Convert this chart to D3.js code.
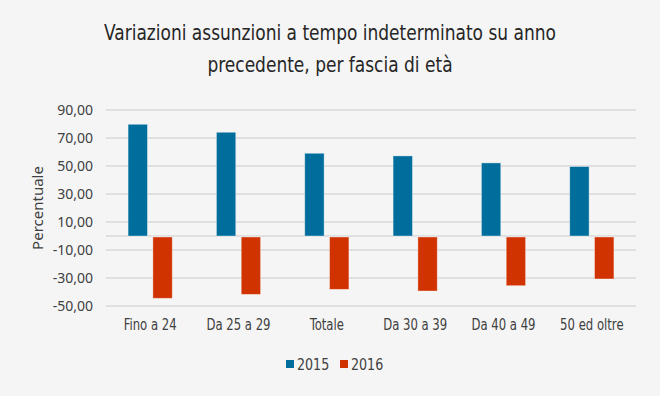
<!DOCTYPE html>
<html>
<head>
<meta charset="utf-8">
<script src="https://cdn.jsdelivr.net/npm/d3@7"></script>
<style>
  html, body { margin: 0; padding: 0; background: #f5f5f5; }
  svg { display: block; }
  .narrow { font-family: 'DejaVu Sans', sans-serif; font-stretch: condensed; }
</style>
</head>
<body>
<div id="chart"></div>
<script>
const categories = ["Fino a 24", "Da 25 a 29", "Totale", "Da 30 a 39", "Da 40 a 49", "50 ed oltre"];
const seriesNames = ["2015", "2016"];
const values2015 = [79.8, 74.1, 59.1, 57.2, 52.2, 49.6];
const values2016 = [-44.5, -41.7, -38.1, -39.3, -35.5, -30.7];
const yTicks = [90, 70, 50, 30, 10, -10, -30, -50];
const titleLines = ["Variazioni assunzioni a tempo indeterminato su anno", "precedente, per fascia di età"];

const colors = { "2015": "#006e9c", "2016": "#d03300" };
const width = 660, height = 396;
const margin = { left: 106, right: 24, top: 110, bottom: 90 };

const svg = d3.select("#chart").append("svg")
    .attr("width", width)
    .attr("height", height)
    .style("background", "#f5f5f5");

const regular = "'Noto Sans', 'Open Sans', sans-serif";

// the original font is a tall condensed face, squeeze the text horizontally to get close
function squeeze(sel, k) {
    sel.each(function () {
        const w = this.getComputedTextLength();
        d3.select(this).attr("textLength", w * k).attr("lengthAdjust", "spacingAndGlyphs");
    });
}

// Title
svg.append("text")
    .attr("class", "narrow")
    .attr("text-anchor", "middle")
    .attr("font-size", "22px")
    .attr("fill", "#262626")
    .selectAll("tspan")
    .data(titleLines)
    .join("tspan")
    .attr("x", width / 2)
    .attr("y", (d, i) => 40 + i * 32)
    .text(d => d)
    .call(squeeze, 0.86);

const x0 = d3.scaleBand()
    .domain(categories)
    .range([margin.left, width - margin.right])
    .paddingInner(0.5)
    .paddingOuter(0.25);

const x1 = d3.scaleBand()
    .domain(seriesNames)
    .range([0, x0.bandwidth()])
    .paddingInner(0.22);

const y = d3.scaleLinear()
    .domain([-50, 90])
    .range([height - margin.bottom, margin.top]);

// Gridlines
svg.append("g")
    .selectAll("line")
    .data(yTicks.concat([0]))
    .join("line")
    .attr("x1", margin.left)
    .attr("x2", width - margin.right)
    .attr("y1", d => y(d))
    .attr("y2", d => y(d))
    .attr("stroke", "#d9d9d9")
    .attr("stroke-width", 1.3);

// Y axis labels
const yAxis = d3.axisLeft(y)
    .tickValues(yTicks)
    .tickSize(0)
    .tickPadding(13)
    .tickFormat(d => d3.format(".2f")(d).replace(".", ",").replace("\u2212", "-"));

svg.append("g")
    .attr("transform", `translate(${margin.left},0)`)
    .call(yAxis)
    .call(g => g.select(".domain").remove())
    .call(g => g.selectAll("text")
        .attr("font-family", regular)
        .attr("font-size", "14px")
        .attr("fill", "#404040"));

svg.append("text")
    .attr("transform", `translate(43,${y(20)}) rotate(-90)`)
    .attr("text-anchor", "middle")
    .attr("font-family", regular)
    .attr("font-size", "15px")
    .attr("fill", "#404040")
    .text("Percentuale");

// Bars
const data = categories.map((c, i) => ({
    category: c,
    values: [
        { series: "2015", value: values2015[i] },
        { series: "2016", value: values2016[i] }
    ]
}));

svg.append("g")
    .selectAll("g")
    .data(data)
    .join("g")
    .attr("transform", d => `translate(${x0(d.category)},0)`)
    .selectAll("rect")
    .data(d => d.values)
    .join("rect")
    .attr("x", d => x1(d.series))
    .attr("width", x1.bandwidth())
    .attr("y", d => d.value >= 0 ? y(d.value) : y(0) + 1)
    .attr("height", d => Math.abs(y(d.value) - y(0)) - (d.value >= 0 ? 0 : 1))
    .attr("fill", d => colors[d.series])
    .attr("stroke", "rgba(255,255,255,0.45)")
    .attr("stroke-width", 0.8);

// Category labels
const xAxis = d3.axisBottom(x0).tickSize(0).tickPadding(13);
svg.append("g")
    .attr("transform", `translate(0,${y(-50)})`)
    .call(xAxis)
    .call(g => g.select(".domain").remove())
    .call(g => g.selectAll("text")
        .attr("class", "narrow")
        .attr("font-size", "16px")
        .attr("fill", "#404040")
        .call(squeeze, 0.81));

// Legend
const legendX = [286, 340];
const legend = svg.append("g")
    .selectAll("g")
    .data(seriesNames)
    .join("g")
    .attr("transform", (d, i) => `translate(${legendX[i]},360)`);

legend.append("rect")
    .attr("width", 8)
    .attr("height", 8)
    .attr("fill", d => colors[d]);

legend.append("text")
    .attr("class", "narrow")
    .attr("x", 11)
    .attr("y", 10)
    .attr("font-size", "16px")
    .attr("fill", "#404040")
    .text(d => d)
    .call(squeeze, 0.88);
</script>
</body>
</html>
